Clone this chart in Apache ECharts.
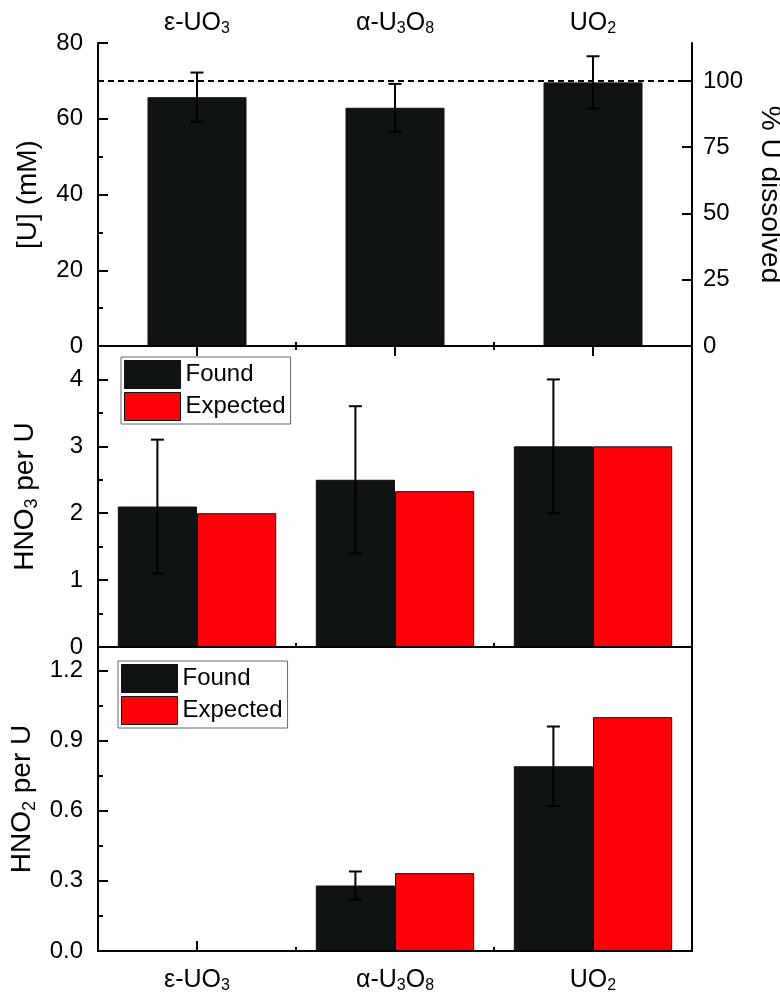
<!DOCTYPE html>
<html>
<head>
<meta charset="utf-8">
<script src="https://cdn.jsdelivr.net/npm/echarts@6/dist/echarts.min.js"></script>
<style>
  html, body { margin: 0; padding: 0; background: #fff; }
  #chart { width: 780px; height: 995px; }
</style>
</head>
<body>
<div id="chart"></div>
<script>
// categorías (los "_n" se convierten en subíndice)
const categories = ["ε-UO_3", "α-U_3O_8", "UO_2"];

// panel superior: [U] disuelto (mM)
const uConc = [65.7, 62.9, 69.6];
const uConcErr = [6.5, 6.3, 6.9];

// panel medio: HNO3 por U
const hno3Found = [2.1, 2.5, 3.0];
const hno3FoundErr = [1.0, 1.1, 1.0];
const hno3Expected = [2.0, 2.33, 3.0];

// panel inferior: HNO2 por U
const hno2Found = [0, 0.28, 0.79];
const hno2FoundErr = [0, 0.06, 0.17];
const hno2Expected = [0, 0.333, 1.0];

const FONT = "'Liberation Sans', Arial, sans-serif";
const BLACK = "#0f1313";
const RED = "#ff0008";

const sub = (s) => s.replace(/_(\d)/g, "{s|$1}");
const richSub = (size) => ({
  s: { fontSize: size, fontFamily: FONT, color: "#000", verticalAlign: "bottom" },
});

// outerBoundsMode none: que v6 no encoja el grid por los nombres de eje
const gridBase = { left: 98, right: 88, outerBoundsMode: "none", containLabel: false };
const grids = [
  { ...gridBase, top: 43, height: 303 },
  { ...gridBase, top: 346, height: 301 },
  { ...gridBase, top: 647, height: 304 },
];

const lineStyle = { color: "#000", width: 2 };

// eje x de categorías: ticks en centros (center) o en fronteras
function catAxis(gridIndex, position, opts) {
  return {
    type: "category",
    gridIndex,
    position,
    data: categories,
    z: 5,
    axisLine: { show: !!opts.line, lineStyle },
    axisTick: {
      show: true,
      inside: true,
      alignWithLabel: !!opts.center,
      length: opts.center ? 10 : 4,
      lineStyle: { color: "#000", width: 2 },
    },
    axisLabel: opts.labels
      ? {
          show: true,
          interval: 0,
          fontSize: 25,
          fontFamily: FONT,
          color: "#000",
          margin: opts.margin,
          lineHeight: 28,
          formatter: sub,
          rich: richSub(16),
        }
      : { show: false },
    splitLine: { show: false },
  };
}

function valAxis(gridIndex, position, opts) {
  return {
    type: "value",
    gridIndex,
    position,
    min: 0,
    max: opts.max,
    interval: opts.interval,
    z: 5,
    name: opts.name || "",
    nameLocation: "middle",
    nameGap: opts.nameGap || 0,
    nameRotate: opts.nameRotate,
    nameTextStyle: {
      fontSize: 28,
      fontFamily: FONT,
      color: "#000",
      lineHeight: 32,
      rich: richSub(18),
    },
    axisLine: { show: !!opts.line, lineStyle },
    axisTick: {
      show: opts.ticks !== false,
      inside: true,
      length: opts.minor ? 5 : 10,
      lineStyle: { color: "#000", width: 2 },
    },
    axisLabel: opts.labels
      ? {
          show: true,
          fontSize: 24,
          fontFamily: FONT,
          color: "#000",
          margin: opts.margin,
          showMaxLabel: !!opts.maxLabel,
          formatter: opts.fmt,
        }
      : { show: false },
    splitLine: { show: false },
  };
}

const xAxes = [
  catAxis(0, "top", { line: true, center: true, labels: true, margin: 6 }), // 0
  catAxis(0, "top", {}), // 1
  catAxis(0, "bottom", { line: true }), // 2
  catAxis(1, "bottom", { line: true }), // 3
  catAxis(2, "bottom", { line: true, center: true, labels: true, margin: 15 }), // 4
  catAxis(2, "bottom", {}), // 5
];

const yAxes = [
  valAxis(0, "left", { max: 80, interval: 20, line: true, labels: true, maxLabel: true, margin: 15, name: "[U] (mM)", nameGap: 54 }), // 0
  valAxis(0, "left", { max: 80, interval: 10, minor: true }), // 1
  valAxis(0, "right", { max: (80 / 70) * 100, interval: 25, line: true, labels: true, margin: 11, name: "% U dissolved", nameGap: 60, nameRotate: -90 }), // 2
  valAxis(1, "left", { max: 4.5, interval: 1, line: true, labels: true, margin: 15, name: sub("HNO_3 per U"), nameGap: 57 }), // 3
  valAxis(1, "left", { max: 4.5, interval: 0.5, minor: true }), // 4
  valAxis(1, "right", { max: 4.5, interval: 1, line: true, ticks: false }), // 5
  valAxis(2, "left", { max: 1.3, interval: 0.3, line: true, labels: true, margin: 15, name: sub("HNO_2 per U"), nameGap: 57, fmt: (v) => v.toFixed(1) }), // 6
  valAxis(2, "left", { max: 1.3, interval: 0.15, minor: true }), // 7
  valAxis(2, "right", { max: 1.3, interval: 0.3, line: true, ticks: false }), // 8
];

// barras de error: offset relativo al ancho de la categoría
function errorBars(xAxisIndex, yAxisIndex, values, errs, offset) {
  return {
    type: "custom",
    xAxisIndex,
    yAxisIndex,
    z: 6,
    silent: true,
    data: values.map((v, i) => [i, v, errs[i]]),
    encode: { x: 0, y: 1 },
    renderItem: (params, api) => {
      const e = api.value(2);
      if (!e) return null;
      const x = api.value(0);
      const v = api.value(1);
      const band = api.size([1, 0])[0];
      const top = api.coord([x, v + e]);
      const bot = api.coord([x, v - e]);
      const cx = top[0] + band * offset;
      const cap = 6.5;
      const st = { stroke: "#000", lineWidth: 2 };
      return {
        type: "group",
        children: [
          { type: "line", shape: { x1: cx, y1: top[1], x2: cx, y2: bot[1] }, style: st },
          { type: "line", shape: { x1: cx - cap, y1: top[1], x2: cx + cap, y2: top[1] }, style: st },
          { type: "line", shape: { x1: cx - cap, y1: bot[1], x2: cx + cap, y2: bot[1] }, style: st },
        ],
      };
    },
  };
}

const barStyle = (c) => ({ color: c, borderColor: "#111", borderWidth: 1 });

function pairBars(xAxisIndex, yAxisIndex, found, expected) {
  return [
    {
      name: "Found",
      type: "bar",
      xAxisIndex,
      yAxisIndex,
      data: found,
      barGap: "0%",
      barCategoryGap: "20%",
      itemStyle: barStyle(BLACK),
    },
    {
      name: "Expected",
      type: "bar",
      xAxisIndex,
      yAxisIndex,
      data: expected,
      barGap: "0%",
      barCategoryGap: "20%",
      itemStyle: barStyle(RED),
    },
  ];
}

const legendBase = {
  orient: "vertical",
  selectedMode: false,
  data: ["Found", "Expected"],
  icon: "rect",
  itemWidth: 56,
  itemHeight: 28,
  itemGap: 3,
  padding: [3, 5, 3, 3],
  borderColor: "#666",
  borderWidth: 1,
  itemStyle: { borderColor: "#111", borderWidth: 1 },
  textStyle: { fontSize: 24, fontFamily: FONT, color: "#000" },
};

const option = {
  animation: false,
  backgroundColor: "#fff",
  grid: grids,
  xAxis: xAxes,
  yAxis: yAxes,
  legend: [
    { ...legendBase, left: 121, top: 357 },
    { ...legendBase, left: 118, top: 661 },
  ],
  series: [
    {
      name: "U",
      type: "bar",
      xAxisIndex: 0,
      yAxisIndex: 0,
      data: uConc,
      barWidth: "50%",
      itemStyle: barStyle(BLACK),
    },
    errorBars(0, 0, uConc, uConcErr, 0),
    {
      type: "line",
      xAxisIndex: 0,
      yAxisIndex: 2,
      data: [null, null, null],
      symbol: "none",
      z: 7,
      markLine: {
        silent: true,
        symbol: "none",
        label: { show: false },
        lineStyle: { color: "#000", type: [6, 4], width: 2 },
        data: [{ yAxis: 100 }],
      },
    },
    ...pairBars(3, 3, hno3Found, hno3Expected),
    errorBars(3, 3, hno3Found, hno3FoundErr, -0.2),
    ...pairBars(4, 6, hno2Found, hno2Expected),
    errorBars(4, 6, hno2Found, hno2FoundErr, -0.2),
  ],
};

const chart = echarts.init(document.getElementById("chart"), null, { renderer: "canvas" });
chart.setOption(option);
</script>
</body>
</html>
